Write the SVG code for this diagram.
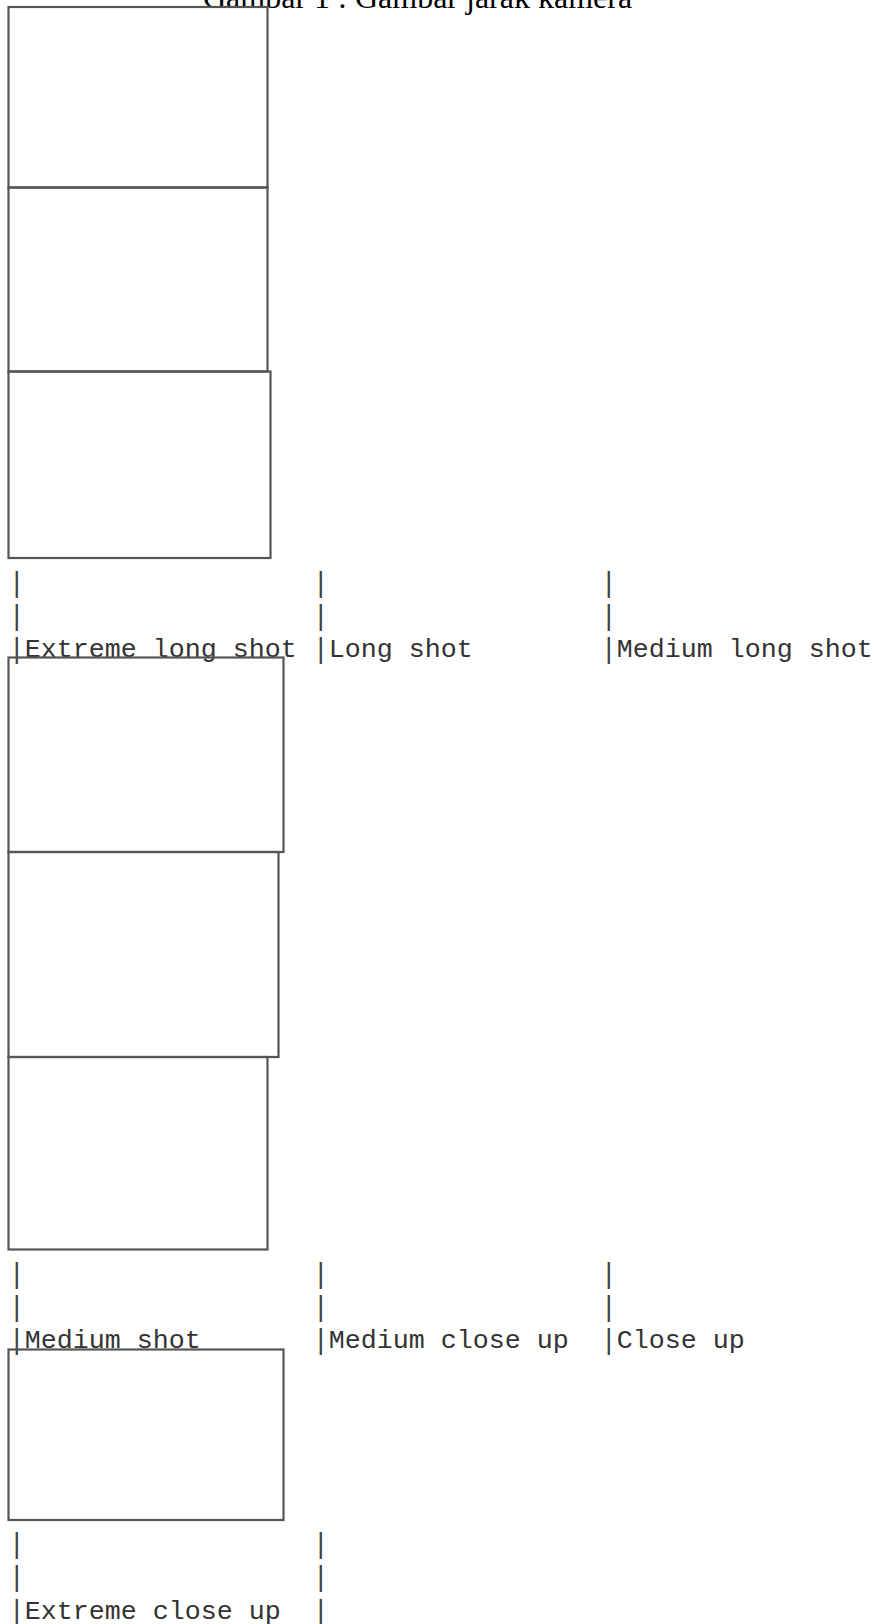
<svg xmlns="http://www.w3.org/2000/svg" width="893" height="1624" viewBox="0 0 893 1624">
<style>
.frame{fill:none;stroke:#555;stroke-width:2.2}
.mono{font-family:"Liberation Mono","Courier New",monospace;font-size:26.67px;fill:#333}
.bar{font-family:"DejaVu Sans Mono",monospace;font-size:26.67px;fill:#444;text-anchor:middle}
.title{font-family:"Liberation Serif","Times New Roman",serif;font-size:32px;fill:#000}
</style>
<rect width="893" height="1624" fill="#fff"/>
<text class="title" x="203" y="7.5">Gambar 1 : Gambar jarak kamera</text>
<g id="frame-1"><rect class="frame" x="8.5" y="7" width="259" height="180.5"/></g>
<g id="frame-2"><rect class="frame" x="8.5" y="187.5" width="259" height="184"/></g>
<g id="frame-3"><rect class="frame" x="8.5" y="371.5" width="262" height="186.5"/></g>
<g id="labels-1">
<text class="bar" x="16.7" y="590.5">|</text><text class="bar" x="320.7" y="590.5">|</text><text class="bar" x="608.7" y="590.5">|</text>
<text class="bar" x="16.7" y="623.8">|</text><text class="bar" x="320.7" y="623.8">|</text><text class="bar" x="608.7" y="623.8">|</text>
<text class="bar" x="16.7" y="657">|</text><text class="mono" x="24.7" y="657">Extreme long shot</text>
<text class="bar" x="320.7" y="657">|</text><text class="mono" x="328.7" y="657">Long shot</text>
<text class="bar" x="608.7" y="657">|</text><text class="mono" x="616.7" y="657">Medium long shot</text>
</g>
<g id="frame-4"><rect class="frame" x="8.5" y="657.5" width="275" height="194.5"/></g>
<g id="frame-5"><rect class="frame" x="8.5" y="852" width="270" height="205"/></g>
<g id="frame-6"><rect class="frame" x="8.5" y="1057" width="259" height="192.5"/></g>
<g id="labels-2">
<text class="bar" x="16.7" y="1281.5">|</text><text class="bar" x="320.7" y="1281.5">|</text><text class="bar" x="608.7" y="1281.5">|</text>
<text class="bar" x="16.7" y="1314.8">|</text><text class="bar" x="320.7" y="1314.8">|</text><text class="bar" x="608.7" y="1314.8">|</text>
<text class="bar" x="16.7" y="1348">|</text><text class="mono" x="24.7" y="1348">Medium shot</text>
<text class="bar" x="320.7" y="1348">|</text><text class="mono" x="328.7" y="1348">Medium close up</text>
<text class="bar" x="608.7" y="1348">|</text><text class="mono" x="616.7" y="1348">Close up</text>
</g>
<g id="frame-7"><rect class="frame" x="8.5" y="1349.5" width="275" height="170.5"/></g>
<g id="labels-3">
<text class="bar" x="16.7" y="1552">|</text><text class="bar" x="320.7" y="1552">|</text>
<text class="bar" x="16.7" y="1585.3">|</text><text class="bar" x="320.7" y="1585.3">|</text>
<text class="bar" x="16.7" y="1618.5">|</text><text class="mono" x="24.7" y="1618.5">Extreme close up</text>
<text class="bar" x="320.7" y="1618.5">|</text>
</g>
<g id="connectors"/>
</svg>
